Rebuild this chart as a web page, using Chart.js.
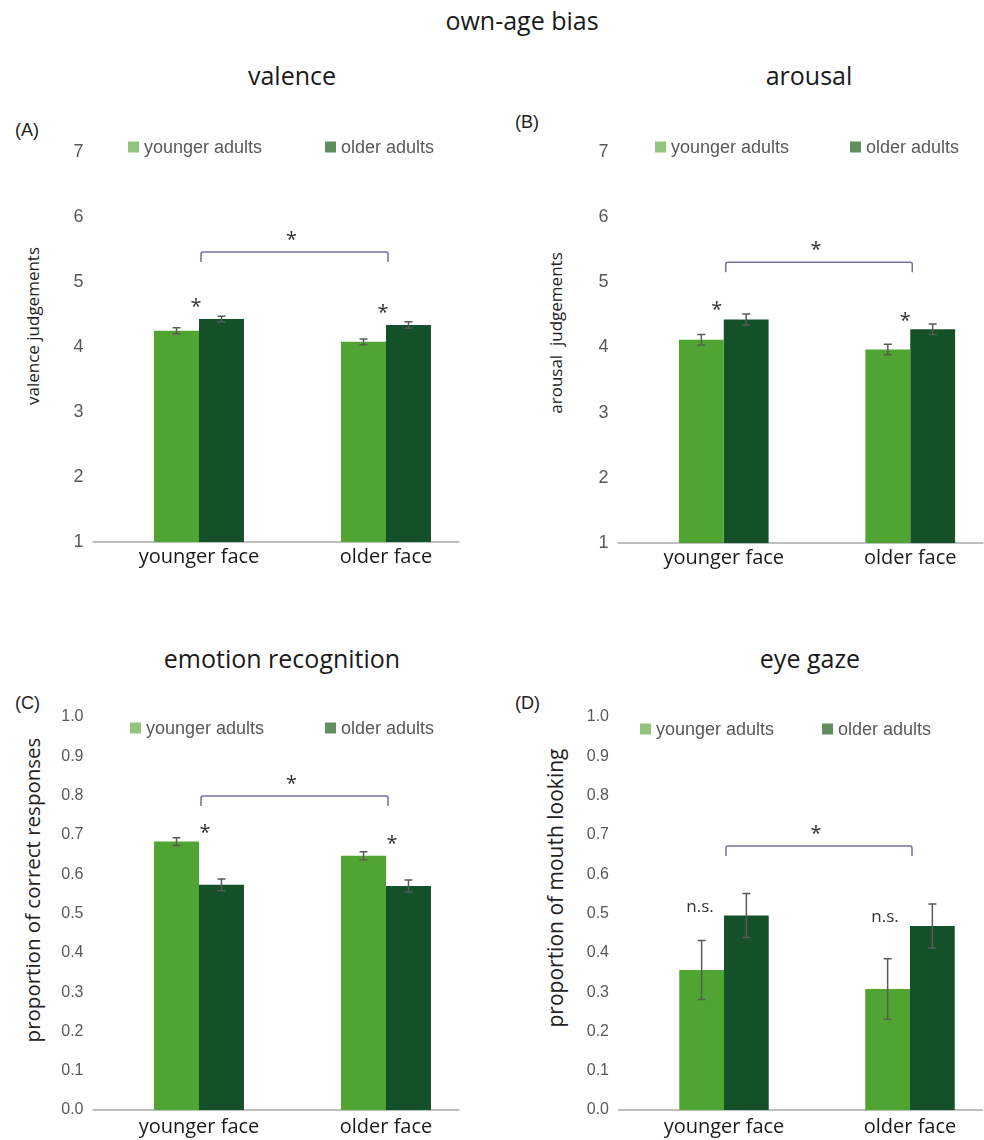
<!DOCTYPE html>
<html>
<head>
<meta charset="utf-8">
<script src="https://cdn.jsdelivr.net/npm/chart.js@4.4.1/dist/chart.umd.min.js"></script>
<style>
html, body { margin: 0; padding: 0; background: #fff; }
body { width: 984px; height: 1140px; position: relative; overflow: hidden; font-family: "Open Sans", sans-serif; }
.t { position: absolute; transform: translate(-50%, -50%); white-space: nowrap; color: #1a1a1a; font-size: 25px; }
.tag { position: absolute; transform: translateY(-50%); font-family: "Liberation Sans", Arial, sans-serif; font-size: 18px; color: #222; }
.leg { position: absolute; transform: translateY(-50%); display: flex; align-items: center; white-space: nowrap;
       font-family: "Liberation Sans", Arial, sans-serif; font-size: 18px; color: #595959; }
.leg i { display: inline-block; width: 11px; height: 11px; margin-right: 5px; }
.yt { position: absolute; transform: translate(-50%, -50%) rotate(-90deg); white-space: nowrap; color: #222; }
canvas { position: absolute; }
</style>
</head>
<body>
<div class="t" style="left:522px;top:20px">own-age bias</div>
<div class="t" style="left:292px;top:75px">valence</div>
<div class="t" style="left:809px;top:75px">arousal</div>
<div class="t" style="left:282px;top:658px">emotion recognition</div>
<div class="t" style="left:810px;top:658px">eye gaze</div>

<div class="tag" style="left:15px;top:130px">(A)</div>
<div class="tag" style="left:515px;top:122px">(B)</div>
<div class="tag" style="left:15px;top:703px">(C)</div>
<div class="tag" style="left:515px;top:703px">(D)</div>

<div class="yt" style="left:32px;top:326px;font-size:17px">valence judgements</div>
<div class="yt" style="left:555px;top:333px;font-size:17px">arousal&nbsp; judgements</div>
<div class="yt" style="left:32px;top:890px;font-size:20.5px">proportion of correct responses</div>
<div class="yt" style="left:555px;top:888px;font-size:21px">proportion of mouth looking</div>

<canvas id="chartA" width="490" height="440" style="left:0;top:140px"></canvas>
<canvas id="chartB" width="500" height="440" style="left:520px;top:140px"></canvas>
<canvas id="chartC" width="490" height="440" style="left:0;top:700px"></canvas>
<canvas id="chartD" width="500" height="440" style="left:520px;top:700px"></canvas>

<script>
// ===== DADOS =====
const categories = ['younger face', 'older face'];
const seriesNames = ['younger adults', 'older adults'];

const valenceYoung = [4.25, 4.08];
const valenceOld = [4.43, 4.34];
const valenceYoungErr = [0.045, 0.045];
const valenceOldErr = [0.045, 0.05];

const arousalYoung = [4.12, 3.97];
const arousalOld = [4.43, 4.28];
const arousalYoungErr = [0.08, 0.08];
const arousalOldErr = [0.085, 0.08];

const emotionYoung = [0.683, 0.647];
const emotionOld = [0.573, 0.570];
const emotionYoungErr = [0.01, 0.01];
const emotionOldErr = [0.015, 0.015];

const gazeYoung = [0.356, 0.308];
const gazeOld = [0.495, 0.468];
const gazeYoungErr = [0.075, 0.077];
const gazeOldErr = [0.056, 0.056];

const scaleTicks17 = [1, 2, 3, 4, 5, 6, 7];
const scaleTicks01 = [0, 0.1, 0.2, 0.3, 0.4, 0.5, 0.6, 0.7, 0.8, 0.9, 1.0];

// ===== CORES =====
const barColors = ['#50a532', '#145128'];
const legendColors = ['#93c47d', '#5f8f5f'];
const errColor = '#5a5a5a';
const bracketColor = '#77709f';

// Plugin de decoração: eixo base, barras de erro, chave e asteriscos
function makeDecor(cfg) {
    return {
        id: 'decor',
        beforeDatasetsDraw(chart) {
            const ctx = chart.ctx;
            const a = chart.chartArea;
            ctx.save();
            ctx.strokeStyle = '#bfbfbf';
            ctx.lineWidth = 2;
            ctx.beginPath();
            ctx.moveTo(a.left - 13, a.bottom);
            ctx.lineTo(a.right - 20, a.bottom);
            ctx.stroke();
            ctx.restore();
        },
        afterDatasetsDraw(chart) {
            const ctx = chart.ctx;
            const xs = chart.scales.x;
            const ys = chart.scales.y;
            ctx.save();

            // barras de erro
            ctx.strokeStyle = errColor;
            ctx.lineWidth = 1.5;
            cfg.errors.forEach((errs, i) => {
                const meta = chart.getDatasetMeta(i);
                const vals = chart.data.datasets[i].data;
                meta.data.forEach((bar, j) => {
                    const yT = ys.getPixelForValue(vals[j] + errs[j]);
                    const yB = ys.getPixelForValue(vals[j] - errs[j]);
                    ctx.beginPath();
                    ctx.moveTo(bar.x, yT); ctx.lineTo(bar.x, yB);
                    ctx.moveTo(bar.x - 4, yT); ctx.lineTo(bar.x + 4, yT);
                    ctx.moveTo(bar.x - 4, yB); ctx.lineTo(bar.x + 4, yB);
                    ctx.stroke();
                });
            });

            // chave entre as categorias
            const x0 = xs.getPixelForValue(0) + 2;
            const x1 = xs.getPixelForValue(1) + 2;
            const yb = ys.getPixelForValue(cfg.bracket);
            ctx.strokeStyle = bracketColor;
            ctx.lineWidth = 1.5;
            ctx.beginPath();
            ctx.moveTo(x0, yb + 10);
            ctx.lineTo(x0, yb + 2);
            ctx.quadraticCurveTo(x0, yb, x0 + 2, yb);
            ctx.lineTo(x1 - 2, yb);
            ctx.quadraticCurveTo(x1, yb, x1, yb + 2);
            ctx.lineTo(x1, yb + 10);
            ctx.stroke();

            ctx.fillStyle = '#333';
            ctx.textAlign = 'center';
            ctx.textBaseline = 'middle';
            ctx.font = '20px "Open Sans"';
            ctx.fillText('*', (x0 + x1) / 2 - 3, yb - 12);

            // marcas sobre as barras
            cfg.marks.forEach((m, j) => {
                const x = xs.getPixelForValue(j) + m.dx;
                const y = ys.getPixelForValue(m.v);
                if (m.text === '*') {
                    ctx.font = '20px "Open Sans"';
                    ctx.fillText('*', x, y + 3);
                } else {
                    ctx.font = '17px "Open Sans"';
                    ctx.fillText(m.text, x, y);
                }
            });
            ctx.restore();
        }
    };
}

function makeLegend(xs, y) {
    seriesNames.forEach((name, i) => {
        const d = document.createElement('div');
        d.className = 'leg';
        d.style.left = xs[i] + 'px';
        d.style.top = y + 'px';
        d.innerHTML = '<i style="background:' + legendColors[i] + '"></i>' + name;
        document.body.appendChild(d);
    });
}

function makePanel(p) {
    new Chart(document.getElementById(p.id), {
        type: 'bar',
        data: {
            labels: categories,
            datasets: p.series.map((vals, i) => ({
                label: seriesNames[i],
                data: vals,
                backgroundColor: barColors[i],
                borderWidth: 0,
                categoryPercentage: 0.481,
                barPercentage: 1.0
            }))
        },
        options: {
            responsive: false,
            animation: false,
            devicePixelRatio: 1,
            layout: { padding: { top: p.padTop, right: p.padRight, left: 0, bottom: 0 } },
            plugins: { legend: { display: false }, tooltip: { enabled: false } },
            scales: {
                x: {
                    offset: true,
                    grid: { display: false, drawTicks: false },
                    border: { display: false },
                    ticks: { font: { family: 'Open Sans', size: 20 }, color: '#1a1a1a', padding: p.xPad },
                    afterFit(s) { s.height = p.xH; }
                },
                y: {
                    min: p.ticks[0],
                    max: p.ticks[p.ticks.length - 1],
                    afterBuildTicks(s) { s.ticks = p.ticks.map(v => ({ value: v })); },
                    // espaço entre rótulo e eixo via tickLength (grade oculta)
                    grid: { display: false, drawTicks: true, tickLength: 22 },
                    border: { display: false },
                    ticks: {
                        font: { family: 'Liberation Sans', size: p.tickSize },
                        color: '#595959',
                        padding: 0,
                        callback: p.fmt
                    },
                    afterFit(s) { s.width = p.yW; }
                }
            }
        },
        plugins: [makeDecor(p)]
    });
}

// ===== PAINÉIS =====
makePanel({
    id: 'chartA', series: [valenceYoung, valenceOld], errors: [valenceYoungErr, valenceOldErr],
    ticks: scaleTicks17, fmt: v => String(v), tickSize: 18,
    padTop: 12, padRight: 10.5, yW: 105.5, xH: 38, xPad: 3,
    bracket: 5.46, marks: [{ text: '*', v: 4.65, dx: -3 }, { text: '*', v: 4.57, dx: -3 }]
});
makePanel({
    id: 'chartB', series: [arousalYoung, arousalOld], errors: [arousalYoungErr, arousalOldErr],
    ticks: scaleTicks17, fmt: v => String(v), tickSize: 18,
    padTop: 12, padRight: 16.5, yW: 110.5, xH: 37, xPad: 3,
    bracket: 5.31, marks: [{ text: '*', v: 4.61, dx: -7 }, { text: '*', v: 4.45, dx: -5 }]
});
makePanel({
    id: 'chartC', series: [emotionYoung, emotionOld], errors: [emotionYoungErr, emotionOldErr],
    ticks: scaleTicks01, fmt: v => v.toFixed(1), tickSize: 16,
    padTop: 17, padRight: 10.5, yW: 105.5, xH: 30, xPad: 5,
    bracket: 0.799, marks: [{ text: '*', v: 0.712, dx: 6 }, { text: '*', v: 0.684, dx: 6 }]
});
makePanel({
    id: 'chartD', series: [gazeYoung, gazeOld], errors: [gazeYoungErr, gazeOldErr],
    ticks: scaleTicks01, fmt: v => v.toFixed(1), tickSize: 16,
    padTop: 17, padRight: 17, yW: 111, xH: 30, xPad: 5,
    bracket: 0.672, marks: [{ text: 'n.s.', v: 0.517, dx: -24 }, { text: 'n.s.', v: 0.491, dx: -25 }]
});

makeLegend([128, 325], 147);
makeLegend([655, 850], 147);
makeLegend([130, 325], 728);
makeLegend([640, 822], 729);
</script>
</body>
</html>
